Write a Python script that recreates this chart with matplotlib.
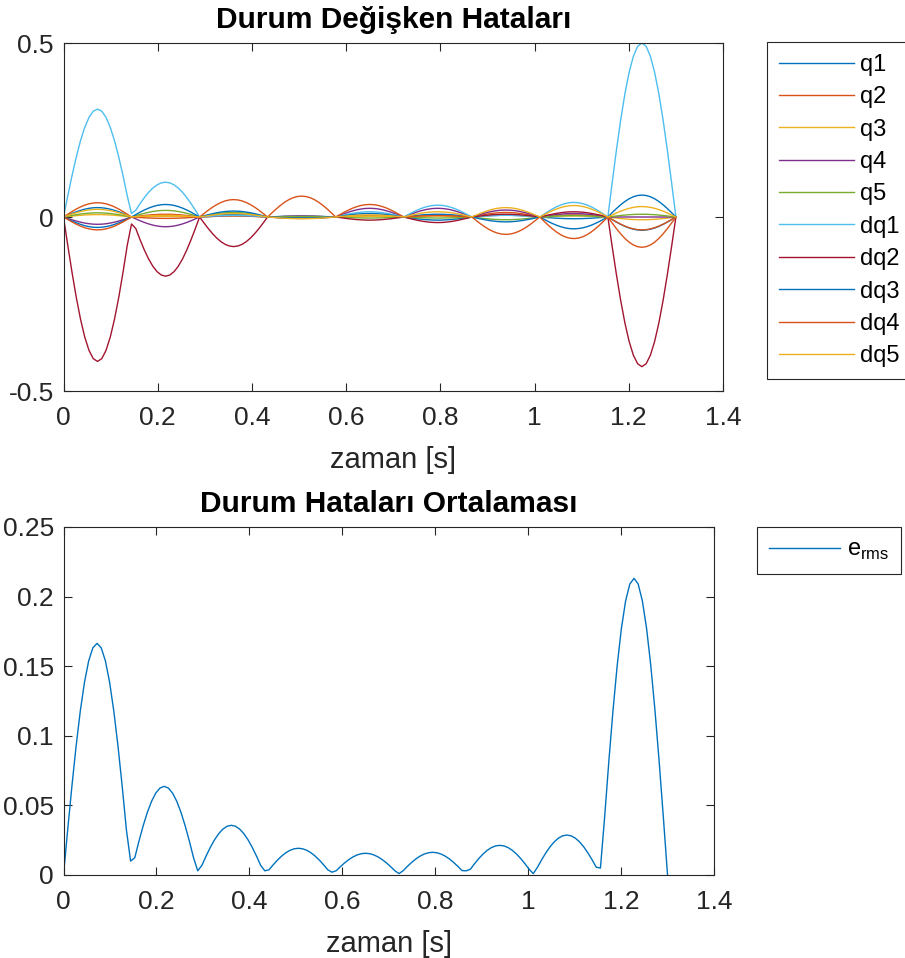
import numpy as np
import matplotlib
matplotlib.use("Agg")
import matplotlib.pyplot as plt
from matplotlib.ticker import FuncFormatter

plt.rcParams['font.family'] = ['Liberation Sans', 'DejaVu Sans']
plt.rcParams['mathtext.fontset'] = 'custom'
plt.rcParams['mathtext.rm'] = 'Liberation Sans'
plt.rcParams['axes.unicode_minus'] = False

# ---- data ----
t_knots = [0.0, 0.1444, 0.2889, 0.4333, 0.5778, 0.7222, 0.8667, 1.0111, 1.1556, 1.3]
# normalized arch shape of one segment
arch_profile = [0, 0.1951, 0.3827, 0.5556, 0.7071, 0.8315, 0.9239, 0.9808, 1.0,
                0.9808, 0.9239, 0.8315, 0.7071, 0.5556, 0.3827, 0.1951, 0]

series_names = ['q1', 'q2', 'q3', 'q4', 'q5', 'dq1', 'dq2', 'dq3', 'dq4', 'dq5']
# peak value of each series on each of the 9 segments
q1_peaks  = [0.027, 0.003, 0.008, 0.003, 0.004, -0.009, 0.005, -0.005, -0.038]
q2_peaks  = [0.041, 0.008, 0.003, 0.002, 0.003, 0.005, 0.013, 0.006, -0.037]
q3_peaks  = [0.007, 0.002, 0.003, -0.002, 0.002, 0.003, 0.006, 0.003, -0.008]
q4_peaks  = [-0.021, -0.028, 0.004, 0.002, 0.025, 0.025, 0.020, 0.010, 0.0]
q5_peaks  = [0.012, 0.019, 0.013, 0.001, -0.003, -0.003, -0.008, 0.004, 0.008]
dq1_peaks = [0.310, 0.100, 0.005, -0.003, 0.015, 0.034, 0.005, 0.042, 0.500]
dq2_peaks = [-0.415, -0.170, -0.085, -0.004, -0.009, -0.016, 0.008, 0.015, -0.430]
dq3_peaks = [-0.030, 0.036, 0.017, -0.003, 0.010, 0.008, -0.014, -0.034, 0.063]
dq4_peaks = [-0.037, -0.004, 0.050, 0.060, 0.036, 0.004, -0.050, -0.062, -0.087]
dq5_peaks = [0.022, 0.005, 0.010, -0.005, 0.006, 0.015, 0.027, 0.033, 0.030]
# values at the knots (cusps)
dq1_knots = [0, 0.010, 0, 0, 0, 0, 0, 0, 0, 0]
dq2_knots = [0, -0.020, 0, 0, 0, 0, 0, 0, 0, 0]

erms_peaks = [0.1664, 0.0637, 0.0357, 0.0192, 0.0156, 0.0163, 0.0213, 0.0287, 0.2131]
erms_knots = [0.0, 0.010, 0.003, 0.003, 0.002, 0.001, 0.003, 0.001, 0.005, 0.0]

colors = ['#0072BD', '#D95319', '#EDB120', '#7E2F8E', '#77AC30',
          '#4DBEEE', '#A2142F', '#0072BD', '#D95319', '#EDB120']

all_peaks = [q1_peaks, q2_peaks, q3_peaks, q4_peaks, q5_peaks,
             dq1_peaks, dq2_peaks, dq3_peaks, dq4_peaks, dq5_peaks]
zero_knots = [0.0] * len(t_knots)
all_knots = [zero_knots] * 5 + [dq1_knots, dq2_knots] + [zero_knots] * 3


def build(peaks, knots):
    prof = np.asarray(arch_profile)
    ts, ys = [], []
    for k in range(len(peaks)):
        t = np.linspace(t_knots[k], t_knots[k + 1], len(prof))
        y = prof * peaks[k]
        y[0] = knots[k]
        y[-1] = knots[k + 1]
        if k > 0:
            t, y = t[1:], y[1:]
        ts.append(t)
        ys.append(y)
    return np.concatenate(ts), np.concatenate(ys)


W, H = 905, 958
fig = plt.figure(figsize=(W / 100, H / 100), dpi=100)

ax1 = fig.add_axes([63.5 / W, 1 - 391 / H, (723 - 63.5) / W, (391 - 43) / H])
ax2 = fig.add_axes([63.5 / W, 1 - 875 / H, (714 - 63.5) / W, (875 - 527) / H])

fs = 19
fs_lab = 21
fs_title = 21.5
fs_leg = 17
edge = '#262626'
fmt = FuncFormatter(lambda v, p: ('%g' % round(v, 4)))

for name, pk, kn, c in zip(series_names, all_peaks, all_knots, colors):
    t, y = build(pk, kn)
    ax1.plot(t, y, color=c, lw=1.0, label=name)

t, y = build(erms_peaks, erms_knots)
ax2.plot(t, y, color='#0072BD', lw=1.0, label=r'e$_{\mathrm{rms}}$')

ax1.set_xlim(0, 1.4)
ax1.set_ylim(-0.5, 0.5)
ax1.set_yticks([-0.5, 0, 0.5])
ax2.set_xlim(0, 1.4)
ax2.set_ylim(0, 0.25)
ax2.set_yticks([0, 0.05, 0.1, 0.15, 0.2, 0.25])

for ax, title in [(ax1, 'Durum Değişken Hataları'), (ax2, 'Durum Hataları Ortalaması')]:
    ax.set_xticks([0, 0.2, 0.4, 0.6, 0.8, 1.0, 1.2, 1.4])
    ax.xaxis.set_major_formatter(fmt)
    ax.yaxis.set_major_formatter(fmt)
    ax.tick_params(direction='in', length=6, width=0.8, top=True, right=True,
                   labelsize=fs, colors=edge)
    ax.tick_params(axis='x', pad=11)
    ax.tick_params(axis='y', pad=7)
    for s in ax.spines.values():
        s.set_color(edge)
        s.set_linewidth(0.8)
    ax.set_xlabel('zaman [s]', fontsize=fs_lab, color=edge, labelpad=11)
    ax.set_title(title, fontsize=fs_title, fontweight='bold', pad=11)

leg1 = ax1.legend(loc='upper left', bbox_to_anchor=(767 / W, 1 - 42 / H),
                  bbox_transform=fig.transFigure, borderaxespad=0, fontsize=fs_leg,
                  handlelength=3.2, handletextpad=0.25, labelspacing=0.44,
                  fancybox=False, framealpha=1, edgecolor=edge, borderpad=0.5)
leg1.get_frame().set_linewidth(0.8)
leg2 = ax2.legend(loc='upper left', bbox_to_anchor=(757 / W, 1 - 527 / H),
                  bbox_transform=fig.transFigure, borderaxespad=0, fontsize=fs_leg,
                  handlelength=3.0, handletextpad=0.3,
                  fancybox=False, framealpha=1, edgecolor=edge, borderpad=0.5)
leg2.get_frame().set_linewidth(0.8)

fig.savefig('out.png', dpi=100)
